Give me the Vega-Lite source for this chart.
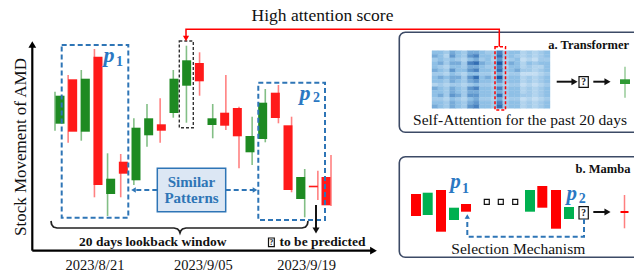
{
"$schema": "https://vega.github.io/schema/vega-lite/v6.json",
"width": 634, "height": 273, "autosize": {"type": "none"}, "padding": 0,
"background": "white",
"config": {"view": {"stroke": null}},
"resolve": {"scale": {"x": "independent", "y": "independent", "color": "independent", "fill": "independent", "stroke": "independent", "strokeDash": "independent", "strokeWidth": "independent", "size": "independent", "shape": "independent", "opacity": "independent", "angle": "independent"}},
"datasets": {
"candles": [
{"day":1,"open":107.63,"high":110.83,"low":106.93,"close":110.43},
{"day":2,"open":112.07,"high":112.5,"low":105.73,"close":106.83},
{"day":3,"open":106.83,"high":113.0,"low":105.93,"close":112.13},
{"day":4,"open":114.33,"high":115.1,"low":100.27,"close":101.5},
{"day":5,"open":100.6,"high":104.67,"low":98.4,"close":102.13},
{"day":6,"open":103.83,"high":104.6,"low":100.27,"close":102.63},
{"day":7,"open":101.97,"high":108.17,"low":101.5,"close":107.23},
{"day":8,"open":106.47,"high":109.6,"low":105.33,"close":108.17},
{"day":9,"open":107.57,"high":110.17,"low":105.73,"close":106.93},
{"day":10,"open":108.7,"high":113.0,"low":108.23,"close":112.13},
{"day":11,"open":111.43,"high":115.43,"low":107.73,"close":113.97},
{"day":12,"open":113.7,"high":114.77,"low":110.43,"close":111.87},
{"day":13,"open":107.5,"high":109.6,"low":106.17,"close":108.17},
{"day":14,"open":108.73,"high":112.5,"low":107.0,"close":107.43},
{"day":15,"open":109.2,"high":109.33,"low":103.17,"close":106.37},
{"day":16,"open":104.77,"high":108.33,"low":103.5,"close":106.4},
{"day":17,"open":106.1,"high":111.1,"low":105.77,"close":109.73},
{"day":18,"open":110.73,"high":111.5,"low":107.67,"close":108.2},
{"day":19,"open":107.47,"high":108.33,"low":100.77,"close":101.0},
{"day":20,"open":100.1,"high":103.1,"low":98.27,"close":102.3},
{"day":21,"open":101.43,"high":102.93,"low":100.0,"close":101.27},
{"day":22,"open":102.3,"high":104.5,"low":99.4,"close":99.47}
],
"panels": [{"x1":399.3,"x2":650,"y1":32.3,"y2":132.3},{"x1":399.3,"x2":650,"y1":156.7,"y2":257.3}],
"blocks": [
{"x1":411,"x2":421,"y1":194,"y2":216,"dir":"down"},
{"x1":422.7,"x2":432.7,"y1":192.7,"y2":215,"dir":"up"},
{"x1":436,"x2":446,"y1":190,"y2":231.7,"dir":"down"},
{"x1":449,"x2":459,"y1":207.7,"y2":220,"dir":"up"},
{"x1":461,"x2":471,"y1":204,"y2":211.7,"dir":"down"},
{"x1":525,"x2":535,"y1":190,"y2":211.7,"dir":"up"},
{"x1":537.3,"x2":547.3,"y1":186,"y2":207.7,"dir":"down"},
{"x1":551,"x2":561,"y1":190,"y2":228.7,"dir":"down"},
{"x1":564,"x2":574,"y1":207,"y2":219,"dir":"up"},
{"x1":620,"x2":630,"y1":79.3,"y2":84,"dir":"out-up"},
{"x1":620.5,"x2":628.5,"y1":211,"y2":213,"dir":"down"}
],
"miniwicks": [{"x":625,"y1":66.7,"y2":97.7,"dir":"out-up"},{"x":624.5,"y1":195,"y2":228.3,"dir":"down"}],
"boxes": [
{"x1":61.7,"x2":128.3,"y1":45,"y2":217.7,"kind":"pattern"},
{"x1":258.3,"x2":325,"y1":82.7,"y2":220,"kind":"pattern"},
{"x1":179.3,"x2":193.3,"y1":41,"y2":127.7,"kind":"focus"},
{"x1":495,"x2":505.5,"y1":46.7,"y2":110,"kind":"attn"},
{"x1":157.3,"x2":225.7,"y1":168.3,"y2":211.7,"kind":"similar"},
{"x1":268.5,"x2":274.3,"y1":238,"y2":246.7,"kind":"query"},
{"x1":579,"x2":588.3,"y1":76.7,"y2":87.3,"kind":"query"},
{"x1":579,"x2":588.3,"y1":206.7,"y2":219,"kind":"query"},
{"x1":484.3,"x2":489.3,"y1":199.3,"y2":204.3,"kind":"query"},
{"x1":498.3,"x2":503.3,"y1":199.3,"y2":204.3,"kind":"query"},
{"x1":512.7,"x2":517.7,"y1":199.3,"y2":204.3,"kind":"query"}
],
"lines": [
{"id":"yaxis","k":0,"x":32.3,"y":250.7,"kind":"axis"},{"id":"yaxis","k":1,"x":32.3,"y":46,"kind":"axis"},
{"id":"xaxis","k":0,"x":32.3,"y":250.7,"kind":"axis"},{"id":"xaxis","k":1,"x":371,"y":250.7,"kind":"axis"},
{"id":"pred","k":0,"x":316,"y":205,"kind":"thin"},{"id":"pred","k":1,"x":316,"y":229,"kind":"thin"},
{"id":"ta1","k":0,"x":556.7,"y":81.7,"kind":"thin"},{"id":"ta1","k":1,"x":573,"y":81.7,"kind":"thin"},
{"id":"ta2","k":0,"x":593.3,"y":81.7,"kind":"thin"},{"id":"ta2","k":1,"x":605.5,"y":81.7,"kind":"thin"},
{"id":"ma","k":0,"x":593.3,"y":212,"kind":"thin"},{"id":"ma","k":1,"x":605.5,"y":212,"kind":"thin"},
{"id":"brace","k":0,"x":51,"y":221,"kind":"brace"},{"id":"brace","k":1,"x":51.6,"y":224.5,"kind":"brace"},{"id":"brace","k":2,"x":53.5,"y":227,"kind":"brace"},{"id":"brace","k":3,"x":57,"y":228,"kind":"brace"},{"id":"brace","k":4,"x":174,"y":228,"kind":"brace"},{"id":"brace","k":5,"x":177.5,"y":229,"kind":"brace"},{"id":"brace","k":6,"x":179.3,"y":231,"kind":"brace"},{"id":"brace","k":7,"x":180,"y":233,"kind":"brace"},{"id":"brace","k":8,"x":180.7,"y":231,"kind":"brace"},{"id":"brace","k":9,"x":182.5,"y":229,"kind":"brace"},{"id":"brace","k":10,"x":186,"y":228,"kind":"brace"},{"id":"brace","k":11,"x":302,"y":228,"kind":"brace"},{"id":"brace","k":12,"x":305.5,"y":227,"kind":"brace"},{"id":"brace","k":13,"x":307.4,"y":224.5,"kind":"brace"},{"id":"brace","k":14,"x":308,"y":221,"kind":"brace"},
{"id":"attn","k":0,"x":186,"y":37,"kind":"attn"},{"id":"attn","k":1,"x":186,"y":29.3,"kind":"attn"},{"id":"attn","k":2,"x":499.3,"y":29.3,"kind":"attn"},{"id":"attn","k":3,"x":499.3,"y":46.7,"kind":"attn"},
{"id":"sl","k":0,"x":157.3,"y":190,"kind":"sel"},{"id":"sl","k":1,"x":135.5,"y":190,"kind":"sel"},
{"id":"sr","k":0,"x":225.7,"y":190,"kind":"sel"},{"id":"sr","k":1,"x":253,"y":190,"kind":"sel"},
{"id":"sel","k":0,"x":584,"y":219,"kind":"sel"},{"id":"sel","k":1,"x":584,"y":236.7,"kind":"sel"},{"id":"sel","k":2,"x":467.3,"y":236.7,"kind":"sel"},{"id":"sel","k":3,"x":467.3,"y":218.5,"kind":"sel"}
],
"heads": [
{"x":32.3,"y":44.5,"sh":"triangle-up","kind":"axis"},
{"x":373.5,"y":250.7,"sh":"triangle-right","kind":"axis"},
{"x":316,"y":230.5,"sh":"triangle-down","kind":"thin"},
{"x":574.5,"y":81.7,"sh":"triangle-right","kind":"thin"},
{"x":607.5,"y":81.7,"sh":"triangle-right","kind":"thin"},
{"x":607.5,"y":212,"sh":"triangle-right","kind":"thin"},
{"x":186,"y":38.5,"sh":"triangle-down","kind":"attn"},
{"x":133.5,"y":190,"sh":"triangle-left","kind":"sel"},
{"x":255,"y":190,"sh":"triangle-right","kind":"sel"},
{"x":467.3,"y":216.5,"sh":"triangle-up","kind":"sel"}
],
"texts": [
{"t":"High attention score","x":322.5,"y":16,"s":17.5,"a":0},
{"t":"Stock Movement of AMD","x":21,"y":147,"s":17,"a":270},
{"t":"2023/8/21","x":95,"y":265.5,"s":14.5,"a":0},
{"t":"2023/9/05","x":203.3,"y":265.5,"s":14.5,"a":0},
{"t":"2023/9/19","x":306.7,"y":265.5,"s":14.5,"a":0},
{"t":"Self-Attention for the past 20 days","x":520,"y":120,"s":15.5,"a":0},
{"t":"Selection Mechanism","x":518.3,"y":249.3,"s":15.5,"a":0}
],
"bold": [
{"t":"20 days lookback window","x":152.8,"y":242.3,"s":13.5,"c":"black"},
{"t":"to be predicted","x":322.5,"y":242.3,"s":13.5,"c":"black"},
{"t":"a. Transformer","x":588.7,"y":45,"s":12.5,"c":"black"},
{"t":"b. Mamba","x":603,"y":169.3,"s":12.5,"c":"black"},
{"t":"Similar","x":191.5,"y":181.7,"s":15,"c":"blue"},
{"t":"Patterns","x":191.5,"y":198.3,"s":15,"c":"blue"},
{"t":"?","x":271.4,"y":242.5,"s":7.5,"c":"black"},
{"t":"?","x":583.6,"y":82,"s":9.5,"c":"black"},
{"t":"?","x":583.6,"y":213,"s":9.5,"c":"black"}
],
"plabels": [{"t":"p","x":109,"y":61.8,"s":22},{"t":"p","x":305,"y":100,"s":22},{"t":"p","x":455.5,"y":188.3,"s":21},{"t":"p","x":571.7,"y":199.5,"s":21}],
"subs": [{"t":"1","x":119.5,"y":65.5},{"t":"2","x":316.5,"y":102},{"t":"1","x":465.5,"y":193.3},{"t":"2","x":582.3,"y":203.3}],
"heat": [
{"c":0,"r":0,"v":4},{"c":1,"r":0,"v":4},{"c":2,"r":0,"v":3},{"c":3,"r":0,"v":5},{"c":4,"r":0,"v":4},{"c":5,"r":0,"v":3},{"c":6,"r":0,"v":5},{"c":7,"r":0,"v":5},{"c":8,"r":0,"v":4},{"c":9,"r":0,"v":3},{"c":10,"r":0,"v":3},{"c":11,"r":0,"v":7},{"c":12,"r":0,"v":3},{"c":13,"r":0,"v":4},{"c":14,"r":0,"v":4},{"c":15,"r":0,"v":2},{"c":16,"r":0,"v":3},{"c":17,"r":0,"v":2},{"c":18,"r":0,"v":3},{"c":19,"r":0,"v":4},
{"c":0,"r":1,"v":5},{"c":1,"r":1,"v":4},{"c":2,"r":1,"v":2},{"c":3,"r":1,"v":6},{"c":4,"r":1,"v":4},{"c":5,"r":1,"v":3},{"c":6,"r":1,"v":6},{"c":7,"r":1,"v":7},{"c":8,"r":1,"v":4},{"c":9,"r":1,"v":4},{"c":10,"r":1,"v":3},{"c":11,"r":1,"v":8},{"c":12,"r":1,"v":3},{"c":13,"r":1,"v":4},{"c":14,"r":1,"v":3},{"c":15,"r":1,"v":2},{"c":16,"r":1,"v":3},{"c":17,"r":1,"v":2},{"c":18,"r":1,"v":3},{"c":19,"r":1,"v":4},
{"c":0,"r":2,"v":3},{"c":1,"r":2,"v":4},{"c":2,"r":2,"v":3},{"c":3,"r":2,"v":4},{"c":4,"r":2,"v":3},{"c":5,"r":2,"v":2},{"c":6,"r":2,"v":4},{"c":7,"r":2,"v":5},{"c":8,"r":2,"v":3},{"c":9,"r":2,"v":4},{"c":10,"r":2,"v":2},{"c":11,"r":2,"v":6},{"c":12,"r":2,"v":2},{"c":13,"r":2,"v":3},{"c":14,"r":2,"v":4},{"c":15,"r":2,"v":1},{"c":16,"r":2,"v":2},{"c":17,"r":2,"v":1},{"c":18,"r":2,"v":3},{"c":19,"r":2,"v":3},
{"c":0,"r":3,"v":4},{"c":1,"r":3,"v":5},{"c":2,"r":3,"v":3},{"c":3,"r":3,"v":5},{"c":4,"r":3,"v":5},{"c":5,"r":3,"v":3},{"c":6,"r":3,"v":7},{"c":7,"r":3,"v":8},{"c":8,"r":3,"v":5},{"c":9,"r":3,"v":4},{"c":10,"r":3,"v":3},{"c":11,"r":3,"v":9},{"c":12,"r":3,"v":3},{"c":13,"r":3,"v":5},{"c":14,"r":3,"v":4},{"c":15,"r":3,"v":2},{"c":16,"r":3,"v":4},{"c":17,"r":3,"v":3},{"c":18,"r":3,"v":4},{"c":19,"r":3,"v":4},
{"c":0,"r":4,"v":4},{"c":1,"r":4,"v":3},{"c":2,"r":4,"v":2},{"c":3,"r":4,"v":4},{"c":4,"r":4,"v":4},{"c":5,"r":4,"v":3},{"c":6,"r":4,"v":5},{"c":7,"r":4,"v":5},{"c":8,"r":4,"v":4},{"c":9,"r":4,"v":3},{"c":10,"r":4,"v":3},{"c":11,"r":4,"v":7},{"c":12,"r":4,"v":2},{"c":13,"r":4,"v":4},{"c":14,"r":4,"v":4},{"c":15,"r":4,"v":2},{"c":16,"r":4,"v":3},{"c":17,"r":4,"v":2},{"c":18,"r":4,"v":2},{"c":19,"r":4,"v":4},
{"c":0,"r":5,"v":5},{"c":1,"r":5,"v":4},{"c":2,"r":5,"v":3},{"c":3,"r":5,"v":6},{"c":4,"r":5,"v":4},{"c":5,"r":5,"v":4},{"c":6,"r":5,"v":6},{"c":7,"r":5,"v":7},{"c":8,"r":5,"v":4},{"c":9,"r":5,"v":4},{"c":10,"r":5,"v":3},{"c":11,"r":5,"v":8},{"c":12,"r":5,"v":3},{"c":13,"r":5,"v":4},{"c":14,"r":5,"v":5},{"c":15,"r":5,"v":3},{"c":16,"r":5,"v":3},{"c":17,"r":5,"v":2},{"c":18,"r":5,"v":3},{"c":19,"r":5,"v":4},
{"c":0,"r":6,"v":3},{"c":1,"r":6,"v":3},{"c":2,"r":6,"v":2},{"c":3,"r":6,"v":4},{"c":4,"r":6,"v":3},{"c":5,"r":6,"v":2},{"c":6,"r":6,"v":4},{"c":7,"r":6,"v":4},{"c":8,"r":6,"v":3},{"c":9,"r":6,"v":3},{"c":10,"r":6,"v":2},{"c":11,"r":6,"v":5},{"c":12,"r":6,"v":2},{"c":13,"r":6,"v":3},{"c":14,"r":6,"v":3},{"c":15,"r":6,"v":1},{"c":16,"r":6,"v":1},{"c":17,"r":6,"v":1},{"c":18,"r":6,"v":2},{"c":19,"r":6,"v":3},
{"c":0,"r":7,"v":4},{"c":1,"r":7,"v":5},{"c":2,"r":7,"v":4},{"c":3,"r":7,"v":5},{"c":4,"r":7,"v":5},{"c":5,"r":7,"v":3},{"c":6,"r":7,"v":6},{"c":7,"r":7,"v":8},{"c":8,"r":7,"v":4},{"c":9,"r":7,"v":5},{"c":10,"r":7,"v":3},{"c":11,"r":7,"v":9},{"c":12,"r":7,"v":3},{"c":13,"r":7,"v":4},{"c":14,"r":7,"v":4},{"c":15,"r":7,"v":2},{"c":16,"r":7,"v":3},{"c":17,"r":7,"v":2},{"c":18,"r":7,"v":3},{"c":19,"r":7,"v":4},
{"c":0,"r":8,"v":4},{"c":1,"r":8,"v":4},{"c":2,"r":8,"v":3},{"c":3,"r":8,"v":5},{"c":4,"r":8,"v":4},{"c":5,"r":8,"v":3},{"c":6,"r":8,"v":5},{"c":7,"r":8,"v":6},{"c":8,"r":8,"v":4},{"c":9,"r":8,"v":4},{"c":10,"r":8,"v":3},{"c":11,"r":8,"v":6},{"c":12,"r":8,"v":3},{"c":13,"r":8,"v":4},{"c":14,"r":8,"v":4},{"c":15,"r":8,"v":2},{"c":16,"r":8,"v":3},{"c":17,"r":8,"v":2},{"c":18,"r":8,"v":3},{"c":19,"r":8,"v":4},
{"c":0,"r":9,"v":2},{"c":1,"r":9,"v":3},{"c":2,"r":9,"v":2},{"c":3,"r":9,"v":3},{"c":4,"r":9,"v":3},{"c":5,"r":9,"v":2},{"c":6,"r":9,"v":3},{"c":7,"r":9,"v":4},{"c":8,"r":9,"v":3},{"c":9,"r":9,"v":3},{"c":10,"r":9,"v":2},{"c":11,"r":9,"v":4},{"c":12,"r":9,"v":2},{"c":13,"r":9,"v":3},{"c":14,"r":9,"v":3},{"c":15,"r":9,"v":1},{"c":16,"r":9,"v":2},{"c":17,"r":9,"v":1},{"c":18,"r":9,"v":2},{"c":19,"r":9,"v":3},
{"c":0,"r":10,"v":5},{"c":1,"r":10,"v":4},{"c":2,"r":10,"v":3},{"c":3,"r":10,"v":5},{"c":4,"r":10,"v":4},{"c":5,"r":10,"v":3},{"c":6,"r":10,"v":6},{"c":7,"r":10,"v":7},{"c":8,"r":10,"v":4},{"c":9,"r":10,"v":4},{"c":10,"r":10,"v":3},{"c":11,"r":10,"v":7},{"c":12,"r":10,"v":3},{"c":13,"r":10,"v":4},{"c":14,"r":10,"v":4},{"c":15,"r":10,"v":2},{"c":16,"r":10,"v":3},{"c":17,"r":10,"v":2},{"c":18,"r":10,"v":3},{"c":19,"r":10,"v":4},
{"c":0,"r":11,"v":4},{"c":1,"r":11,"v":4},{"c":2,"r":11,"v":3},{"c":3,"r":11,"v":5},{"c":4,"r":11,"v":4},{"c":5,"r":11,"v":3},{"c":6,"r":11,"v":5},{"c":7,"r":11,"v":5},{"c":8,"r":11,"v":4},{"c":9,"r":11,"v":4},{"c":10,"r":11,"v":3},{"c":11,"r":11,"v":5},{"c":12,"r":11,"v":3},{"c":13,"r":11,"v":4},{"c":14,"r":11,"v":4},{"c":15,"r":11,"v":2},{"c":16,"r":11,"v":3},{"c":17,"r":11,"v":2},{"c":18,"r":11,"v":3},{"c":19,"r":11,"v":4},
{"c":0,"r":12,"v":4},{"c":1,"r":12,"v":5},{"c":2,"r":12,"v":3},{"c":3,"r":12,"v":6},{"c":4,"r":12,"v":5},{"c":5,"r":12,"v":3},{"c":6,"r":12,"v":6},{"c":7,"r":12,"v":6},{"c":8,"r":12,"v":4},{"c":9,"r":12,"v":4},{"c":10,"r":12,"v":3},{"c":11,"r":12,"v":8},{"c":12,"r":12,"v":3},{"c":13,"r":12,"v":4},{"c":14,"r":12,"v":4},{"c":15,"r":12,"v":3},{"c":16,"r":12,"v":3},{"c":17,"r":12,"v":2},{"c":18,"r":12,"v":3},{"c":19,"r":12,"v":4},
{"c":0,"r":13,"v":3},{"c":1,"r":13,"v":3},{"c":2,"r":13,"v":2},{"c":3,"r":13,"v":4},{"c":4,"r":13,"v":3},{"c":5,"r":13,"v":2},{"c":6,"r":13,"v":4},{"c":7,"r":13,"v":5},{"c":8,"r":13,"v":3},{"c":9,"r":13,"v":3},{"c":10,"r":13,"v":2},{"c":11,"r":13,"v":5},{"c":12,"r":13,"v":2},{"c":13,"r":13,"v":3},{"c":14,"r":13,"v":3},{"c":15,"r":13,"v":1},{"c":16,"r":13,"v":2},{"c":17,"r":13,"v":1},{"c":18,"r":13,"v":2},{"c":19,"r":13,"v":3},
{"c":0,"r":14,"v":4},{"c":1,"r":14,"v":4},{"c":2,"r":14,"v":3},{"c":3,"r":14,"v":5},{"c":4,"r":14,"v":4},{"c":5,"r":14,"v":3},{"c":6,"r":14,"v":5},{"c":7,"r":14,"v":6},{"c":8,"r":14,"v":4},{"c":9,"r":14,"v":4},{"c":10,"r":14,"v":3},{"c":11,"r":14,"v":7},{"c":12,"r":14,"v":3},{"c":13,"r":14,"v":4},{"c":14,"r":14,"v":4},{"c":15,"r":14,"v":2},{"c":16,"r":14,"v":3},{"c":17,"r":14,"v":2},{"c":18,"r":14,"v":3},{"c":19,"r":14,"v":4},
{"c":0,"r":15,"v":5},{"c":1,"r":15,"v":4},{"c":2,"r":15,"v":3},{"c":3,"r":15,"v":5},{"c":4,"r":15,"v":4},{"c":5,"r":15,"v":3},{"c":6,"r":15,"v":6},{"c":7,"r":15,"v":7},{"c":8,"r":15,"v":4},{"c":9,"r":15,"v":4},{"c":10,"r":15,"v":3},{"c":11,"r":15,"v":8},{"c":12,"r":15,"v":3},{"c":13,"r":15,"v":4},{"c":14,"r":15,"v":4},{"c":15,"r":15,"v":2},{"c":16,"r":15,"v":3},{"c":17,"r":15,"v":2},{"c":18,"r":15,"v":3},{"c":19,"r":15,"v":4}
]
},
"layer": [
{"data": {"name": "panels"}, "mark": {"type": "rect", "cornerRadius": 6, "xOffset": 1.5, "yOffset": 2, "fill": "#9a9a9a", "opacity": 0.35},
 "encoding": {"x": {"field": "x1", "type": "quantitative", "scale": {"domain": [0, 634], "range": [0, 634], "nice": false, "zero": false}, "axis": null}, "x2": {"field": "x2"},
  "y": {"field": "y1", "type": "quantitative", "scale": {"domain": [0, 273], "range": [0, 273], "nice": false, "zero": false}, "axis": null}, "y2": {"field": "y2"}}},
{"data": {"name": "panels"}, "mark": {"type": "rect", "cornerRadius": 6, "fill": "white", "stroke": "#3c4a66", "strokeWidth": 1.6},
 "encoding": {"x": {"field": "x1", "type": "quantitative", "scale": {"domain": [0, 634], "range": [0, 634], "nice": false, "zero": false}, "axis": null}, "x2": {"field": "x2"},
  "y": {"field": "y1", "type": "quantitative", "scale": {"domain": [0, 273], "range": [0, 273], "nice": false, "zero": false}, "axis": null}, "y2": {"field": "y2"}}},
{"data": {"name": "heat"}, "mark": {"type": "rect", "strokeWidth": 0.4},
 "encoding": {"x": {"field": "c", "type": "ordinal", "scale": {"range": [432, 550], "paddingInner": 0, "paddingOuter": 0}, "axis": null},
  "y": {"field": "r", "type": "ordinal", "scale": {"range": [50.7, 108.3], "paddingInner": 0, "paddingOuter": 0}, "axis": null},
  "fill": {"field": "v", "type": "quantitative", "scale": {"domain": [0, 4, 9], "range": ["#d5e8f7", "#8fc0e6", "#1b5aa6"]}, "legend": null},
  "stroke": {"field": "v", "type": "quantitative", "scale": {"domain": [0, 4, 9], "range": ["#d5e8f7", "#8fc0e6", "#1b5aa6"]}, "legend": null}}},
{"data": {"name": "candles"}, "mark": {"type": "rule", "strokeWidth": 1.6, "opacity": 0.55},
 "encoding": {"x": {"field": "day", "type": "quantitative", "scale": {"domain": [1, 22], "range": [55, 331], "nice": false, "zero": false}, "axis": null},
  "y": {"field": "low", "type": "quantitative", "scale": {"domain": [90, 120], "range": [300, 0], "nice": false, "zero": false}, "axis": null}, "y2": {"field": "high"},
  "color": {"condition": {"test": "datum.close > datum.open", "value": "#1e8a22"}, "value": "#ff1a1a"}}},
{"data": {"name": "candles"}, "mark": {"type": "bar", "width": 9},
 "encoding": {"x": {"field": "day", "type": "quantitative", "scale": {"domain": [1, 22], "range": [55, 331], "nice": false, "zero": false}, "axis": null},
  "y": {"field": "open", "type": "quantitative", "scale": {"domain": [90, 120], "range": [300, 0], "nice": false, "zero": false}, "axis": null}, "y2": {"field": "close"},
  "color": {"condition": {"test": "datum.close > datum.open", "value": "#1e8a22"}, "value": "#ff1a1a"}}},
{"data": {"name": "miniwicks"}, "mark": {"type": "rule", "strokeWidth": 1.5, "opacity": 0.5},
 "encoding": {"x": {"field": "x", "type": "quantitative", "scale": {"domain": [0, 634], "range": [0, 634], "nice": false, "zero": false}, "axis": null},
  "y": {"field": "y1", "type": "quantitative", "scale": {"domain": [0, 273], "range": [0, 273], "nice": false, "zero": false}, "axis": null}, "y2": {"field": "y2"},
  "color": {"field": "dir", "type": "nominal", "scale": {"domain": ["up", "down", "out-up"], "range": ["#00b050", "#ff0000", "#2f9a34"]}, "legend": null}}},
{"data": {"name": "blocks"}, "mark": {"type": "rect"},
 "encoding": {"x": {"field": "x1", "type": "quantitative", "scale": {"domain": [0, 634], "range": [0, 634], "nice": false, "zero": false}, "axis": null}, "x2": {"field": "x2"},
  "y": {"field": "y1", "type": "quantitative", "scale": {"domain": [0, 273], "range": [0, 273], "nice": false, "zero": false}, "axis": null}, "y2": {"field": "y2"},
  "color": {"field": "dir", "type": "nominal", "scale": {"domain": ["up", "down", "out-up"], "range": ["#00b050", "#ff0000", "#2f9a34"]}, "legend": null}}},
{"data": {"name": "boxes"}, "transform": [{"filter": "datum.kind == 'pattern'"}], "mark": {"type": "rect", "fill": null, "fillOpacity": 0, "stroke": "#2e75b6", "strokeWidth": 2, "strokeDash": [5, 3]},
 "encoding": {"x": {"field": "x1", "type": "quantitative", "scale": {"domain": [0, 634], "range": [0, 634], "nice": false, "zero": false}, "axis": null}, "x2": {"field": "x2"},
  "y": {"field": "y1", "type": "quantitative", "scale": {"domain": [0, 273], "range": [0, 273], "nice": false, "zero": false}, "axis": null}, "y2": {"field": "y2"}}},
{"data": {"name": "boxes"}, "transform": [{"filter": "datum.kind == 'focus'"}], "mark": {"type": "rect", "fill": null, "fillOpacity": 0, "stroke": "#333333", "strokeWidth": 1.4, "strokeDash": [3, 2]},
 "encoding": {"x": {"field": "x1", "type": "quantitative", "scale": {"domain": [0, 634], "range": [0, 634], "nice": false, "zero": false}, "axis": null}, "x2": {"field": "x2"},
  "y": {"field": "y1", "type": "quantitative", "scale": {"domain": [0, 273], "range": [0, 273], "nice": false, "zero": false}, "axis": null}, "y2": {"field": "y2"}}},
{"data": {"name": "boxes"}, "transform": [{"filter": "datum.kind == 'attn'"}], "mark": {"type": "rect", "fill": null, "fillOpacity": 0, "stroke": "#ff0000", "strokeWidth": 1.5, "strokeDash": [3, 2]},
 "encoding": {"x": {"field": "x1", "type": "quantitative", "scale": {"domain": [0, 634], "range": [0, 634], "nice": false, "zero": false}, "axis": null}, "x2": {"field": "x2"},
  "y": {"field": "y1", "type": "quantitative", "scale": {"domain": [0, 273], "range": [0, 273], "nice": false, "zero": false}, "axis": null}, "y2": {"field": "y2"}}},
{"data": {"name": "boxes"}, "transform": [{"filter": "datum.kind == 'similar'"}], "mark": {"type": "rect", "fill": "#dce7f4", "stroke": "#2e75b6", "strokeWidth": 1.5},
 "encoding": {"x": {"field": "x1", "type": "quantitative", "scale": {"domain": [0, 634], "range": [0, 634], "nice": false, "zero": false}, "axis": null}, "x2": {"field": "x2"},
  "y": {"field": "y1", "type": "quantitative", "scale": {"domain": [0, 273], "range": [0, 273], "nice": false, "zero": false}, "axis": null}, "y2": {"field": "y2"}}},
{"data": {"name": "boxes"}, "transform": [{"filter": "datum.kind == 'query'"}], "mark": {"type": "rect", "fill": "white", "stroke": "#111111", "strokeWidth": 1.2},
 "encoding": {"x": {"field": "x1", "type": "quantitative", "scale": {"domain": [0, 634], "range": [0, 634], "nice": false, "zero": false}, "axis": null}, "x2": {"field": "x2"},
  "y": {"field": "y1", "type": "quantitative", "scale": {"domain": [0, 273], "range": [0, 273], "nice": false, "zero": false}, "axis": null}, "y2": {"field": "y2"}}},
{"data": {"name": "lines"}, "transform": [{"filter": "datum.kind != 'sel'"}], "mark": {"type": "line"},
 "encoding": {"x": {"field": "x", "type": "quantitative", "scale": {"domain": [0, 634], "range": [0, 634], "nice": false, "zero": false}, "axis": null},
  "y": {"field": "y", "type": "quantitative", "scale": {"domain": [0, 273], "range": [0, 273], "nice": false, "zero": false}, "axis": null},
  "detail": {"field": "id"}, "order": {"field": "k", "type": "quantitative"},
  "color": {"field": "kind", "type": "nominal", "scale": {"domain": ["axis", "thin", "brace", "attn"], "range": ["#000000", "#111111", "#222222", "#ff0000"]}, "legend": null},
  "strokeWidth": {"field": "kind", "type": "nominal", "scale": {"domain": ["axis", "thin", "brace", "attn"], "range": [2.2, 1.5, 1.1, 2]}, "legend": null}}},
{"data": {"name": "lines"}, "transform": [{"filter": "datum.kind == 'sel'"}], "mark": {"type": "line", "color": "#2e75b6", "strokeWidth": 2, "strokeDash": [5, 3]},
 "encoding": {"x": {"field": "x", "type": "quantitative", "scale": {"domain": [0, 634], "range": [0, 634], "nice": false, "zero": false}, "axis": null},
  "y": {"field": "y", "type": "quantitative", "scale": {"domain": [0, 273], "range": [0, 273], "nice": false, "zero": false}, "axis": null},
  "detail": {"field": "id"}, "order": {"field": "k", "type": "quantitative"}}},
{"data": {"name": "heads"}, "mark": {"type": "point", "filled": true, "opacity": 1, "strokeWidth": 0},
 "encoding": {"x": {"field": "x", "type": "quantitative", "scale": {"domain": [0, 634], "range": [0, 634], "nice": false, "zero": false}, "axis": null},
  "y": {"field": "y", "type": "quantitative", "scale": {"domain": [0, 273], "range": [0, 273], "nice": false, "zero": false}, "axis": null},
  "shape": {"field": "sh", "type": "nominal", "scale": null},
  "color": {"field": "kind", "type": "nominal", "scale": {"domain": ["axis", "thin", "attn", "sel"], "range": ["#000000", "#111111", "#ff0000", "#2e75b6"]}, "legend": null},
  "size": {"field": "kind", "type": "nominal", "scale": {"domain": ["axis", "thin", "attn", "sel"], "range": [60, 28, 40, 38]}, "legend": null}}},
{"data": {"name": "texts"}, "mark": {"type": "text", "font": "Liberation Serif", "baseline": "middle", "align": "center", "color": "#111111"},
 "encoding": {"x": {"field": "x", "type": "quantitative", "scale": {"domain": [0, 634], "range": [0, 634], "nice": false, "zero": false}, "axis": null},
  "y": {"field": "y", "type": "quantitative", "scale": {"domain": [0, 273], "range": [0, 273], "nice": false, "zero": false}, "axis": null},
  "text": {"field": "t"}, "size": {"field": "s", "type": "quantitative", "scale": null}, "angle": {"field": "a", "type": "quantitative", "scale": null}}},
{"data": {"name": "bold"}, "mark": {"type": "text", "font": "Liberation Serif", "fontWeight": "bold", "baseline": "middle", "align": "center"},
 "encoding": {"x": {"field": "x", "type": "quantitative", "scale": {"domain": [0, 634], "range": [0, 634], "nice": false, "zero": false}, "axis": null},
  "y": {"field": "y", "type": "quantitative", "scale": {"domain": [0, 273], "range": [0, 273], "nice": false, "zero": false}, "axis": null},
  "text": {"field": "t"}, "size": {"field": "s", "type": "quantitative", "scale": null},
  "color": {"field": "c", "type": "nominal", "scale": {"domain": ["black", "blue"], "range": ["#111111", "#2e75b6"]}, "legend": null}}},
{"data": {"name": "plabels"}, "mark": {"type": "text", "font": "Liberation Serif", "fontWeight": "bold", "fontStyle": "italic", "baseline": "alphabetic", "align": "center", "color": "#2b78c2"},
 "encoding": {"x": {"field": "x", "type": "quantitative", "scale": {"domain": [0, 634], "range": [0, 634], "nice": false, "zero": false}, "axis": null},
  "y": {"field": "y", "type": "quantitative", "scale": {"domain": [0, 273], "range": [0, 273], "nice": false, "zero": false}, "axis": null},
  "text": {"field": "t"}, "size": {"field": "s", "type": "quantitative", "scale": null}}},
{"data": {"name": "subs"}, "mark": {"type": "text", "font": "Liberation Serif", "fontWeight": "bold", "fontSize": 14, "baseline": "alphabetic", "align": "center", "color": "#2b78c2"},
 "encoding": {"x": {"field": "x", "type": "quantitative", "scale": {"domain": [0, 634], "range": [0, 634], "nice": false, "zero": false}, "axis": null},
  "y": {"field": "y", "type": "quantitative", "scale": {"domain": [0, 273], "range": [0, 273], "nice": false, "zero": false}, "axis": null},
  "text": {"field": "t"}}}
]
}
